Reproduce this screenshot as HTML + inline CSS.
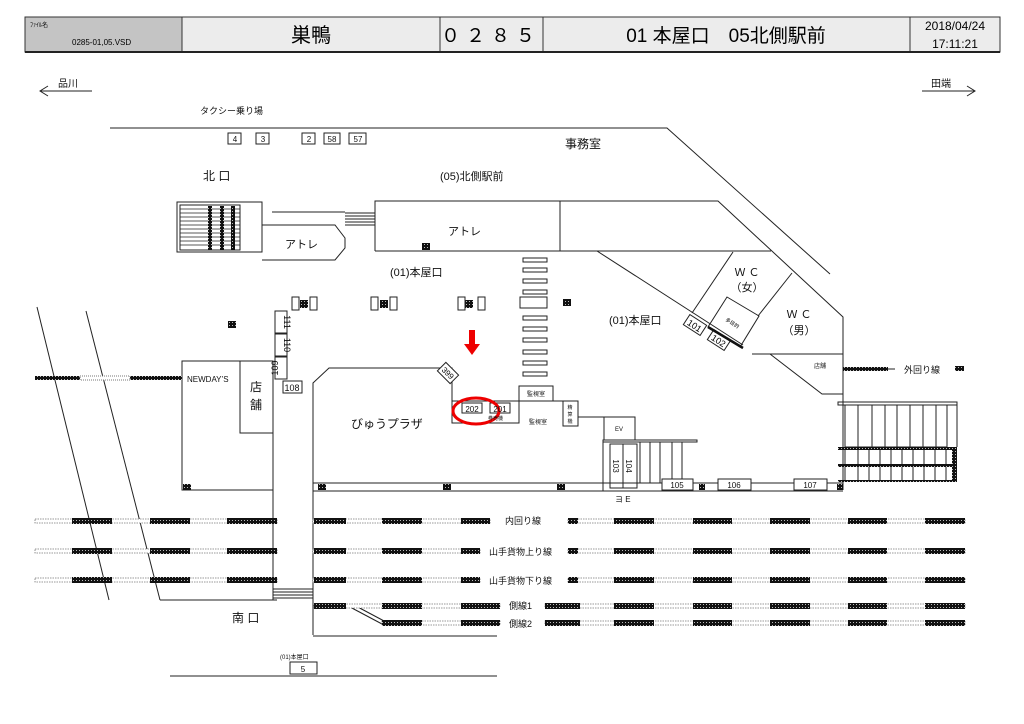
<!DOCTYPE html>
<html><head><meta charset="utf-8"><style>
html,body{margin:0;padding:0;background:#fff;}
svg{display:block;font-family:"Liberation Sans","Noto Sans CJK JP",sans-serif;}
</style></head><body>
<svg width="1024" height="724" viewBox="0 0 1024 724" xmlns="http://www.w3.org/2000/svg">
<defs>
<pattern id="h" width="3" height="3" patternUnits="userSpaceOnUse"><rect width="3" height="3" fill="#111"/><rect x="1" y="1" width="1" height="1" fill="#bbb"/></pattern>
</defs>
<!-- header -->
<rect x="25" y="17" width="157" height="35" fill="#c4c4c4"/>
<rect x="182" y="17" width="818" height="35" fill="#ececec"/>
<g stroke="#333" stroke-width="1" fill="none">
<rect x="25" y="17" width="975" height="35"/>
<line x1="182" y1="17" x2="182" y2="52"/><line x1="440" y1="17" x2="440" y2="52"/>
<line x1="543" y1="17" x2="543" y2="52"/><line x1="910" y1="17" x2="910" y2="52"/>
</g>
<line x1="25" y1="52" x2="1000" y2="52" stroke="#222" stroke-width="2"/>
<text x="30" y="27" font-size="6">ﾌｧｲﾙ名</text>
<text x="72" y="45" font-size="8">0285-01,05.VSD</text>
<text x="311" y="42" font-size="20" text-anchor="middle">巣鴨</text>
<text x="491" y="42" font-size="19" text-anchor="middle" letter-spacing="6">０２８５</text>
<text x="726" y="42" font-size="19" text-anchor="middle">01 本屋口　05北側駅前</text>
<text x="955" y="30" font-size="12" text-anchor="middle">2018/04/24</text>
<text x="955" y="48" font-size="12" text-anchor="middle">17:11:21</text>

<g stroke="#222" stroke-width="1" fill="none">
<line x1="40" y1="91" x2="92" y2="91"/><polyline points="48,86 40,91 48,96"/>
<line x1="922" y1="91" x2="975" y2="91"/><polyline points="967,86 975,91 967,96"/>
<polyline points="110,128 667,128 830,274"/>
<rect x="228" y="133" width="13" height="11"/><rect x="256" y="133" width="13" height="11"/>
<rect x="302" y="133" width="13" height="11"/><rect x="324" y="133" width="16" height="11"/><rect x="349" y="133" width="17" height="11"/>
<rect x="177" y="202" width="85" height="50"/>
<rect x="180" y="205" width="60" height="45"/>
<g stroke-width="0.7"><line x1="180" y1="209" x2="240" y2="209"/><line x1="180" y1="213" x2="240" y2="213"/><line x1="180" y1="217" x2="240" y2="217"/><line x1="180" y1="221" x2="240" y2="221"/><line x1="180" y1="225" x2="240" y2="225"/><line x1="180" y1="229" x2="240" y2="229"/><line x1="180" y1="233" x2="240" y2="233"/><line x1="180" y1="237" x2="240" y2="237"/><line x1="180" y1="241" x2="240" y2="241"/><line x1="180" y1="245" x2="240" y2="245"/></g>
<polyline points="262,225 335,225 345,238 345,248 335,260 262,260"/>
<line x1="272" y1="212" x2="345" y2="212"/>
<line x1="345" y1="213" x2="375" y2="213"/><line x1="345" y1="216" x2="375" y2="216"/><line x1="345" y1="219" x2="375" y2="219"/><line x1="345" y1="222" x2="375" y2="222"/><line x1="345" y1="225" x2="375" y2="225"/>
<polyline points="375,251 375,201 718,201 843,317 843,490"/>
<line x1="375" y1="251" x2="771" y2="251"/>
<line x1="560" y1="201" x2="560" y2="251"/>
<line x1="597" y1="251" x2="743" y2="345"/>
<line x1="733" y1="252" x2="692" y2="313"/>
<line x1="792" y1="273" x2="758" y2="316"/>
<polygon points="727,297 759,316 740,347 708,327"/>
<line x1="752" y1="354" x2="843" y2="354"/>
<polyline points="770,354 822,394 843,394"/>
<rect x="838" y="402" width="119" height="3"/>
<rect x="845" y="405" width="102" height="42"/>
<line x1="858" y1="405" x2="858" y2="447"/><line x1="872" y1="405" x2="872" y2="447"/><line x1="885" y1="405" x2="885" y2="447"/><line x1="897" y1="405" x2="897" y2="447"/><line x1="910" y1="405" x2="910" y2="447"/><line x1="923" y1="405" x2="923" y2="447"/><line x1="936" y1="405" x2="936" y2="447"/>
<line x1="957" y1="405" x2="957" y2="447"/>
<line x1="845" y1="450" x2="845" y2="482"/><line x1="858" y1="450" x2="858" y2="482"/><line x1="869" y1="450" x2="869" y2="482"/><line x1="880" y1="450" x2="880" y2="482"/><line x1="891" y1="450" x2="891" y2="482"/><line x1="902" y1="450" x2="902" y2="482"/><line x1="913" y1="450" x2="913" y2="482"/><line x1="924" y1="450" x2="924" y2="482"/><line x1="935" y1="450" x2="935" y2="482"/><line x1="946" y1="450" x2="946" y2="482"/>
<line x1="37" y1="307" x2="109" y2="600"/>
<line x1="86" y1="311" x2="160" y2="600"/>
<polyline points="160,600 277,600"/>
<rect x="182" y="361" width="91" height="129"/>
<rect x="240" y="361" width="33" height="72"/>
<line x1="273" y1="490" x2="273" y2="600"/>
<rect x="275" y="311" width="12" height="22"/><rect x="275" y="334" width="12" height="22"/><rect x="275" y="357" width="12" height="22"/>
<rect x="283" y="381" width="19" height="12"/>
<line x1="273" y1="589" x2="313" y2="589"/><line x1="273" y1="592" x2="313" y2="592"/><line x1="273" y1="595" x2="313" y2="595"/><line x1="273" y1="598" x2="313" y2="598"/>
<polyline points="313,635 313,383 329,368 452,368 452,423 519,423 519,401"/>
<line x1="452" y1="401" x2="563" y2="401"/>
<rect x="519" y="386" width="34" height="15"/>
<rect x="462" y="403" width="20" height="10"/><rect x="490" y="403" width="20" height="10"/>
<rect x="563" y="401" width="15" height="25"/>
<line x1="578" y1="417" x2="604" y2="417"/>
<rect x="604" y="417" width="31" height="23"/>
<rect x="603" y="440" width="94" height="2"/>
<line x1="603" y1="442" x2="603" y2="491"/>
<rect x="610" y="444" width="27" height="44"/>
<line x1="623" y1="444" x2="623" y2="488"/>
<line x1="640" y1="442" x2="640" y2="483"/><line x1="650" y1="442" x2="650" y2="483"/><line x1="660" y1="442" x2="660" y2="483"/><line x1="672" y1="442" x2="672" y2="483"/><line x1="682" y1="442" x2="682" y2="483"/>
<line x1="313" y1="483" x2="843" y2="483"/>
<line x1="313" y1="491" x2="843" y2="491"/>
<rect x="662" y="479" width="31" height="11" fill="#fff"/>
<rect x="718" y="479" width="33" height="11" fill="#fff"/>
<rect x="794" y="479" width="33" height="11" fill="#fff"/>
<rect x="523" y="258" width="24" height="4"/><rect x="523" y="268" width="24" height="4"/><rect x="523" y="279" width="24" height="4"/><rect x="523" y="290" width="24" height="4"/>
<rect x="520" y="297" width="27" height="11"/>
<rect x="523" y="316" width="24" height="4"/><rect x="523" y="327" width="24" height="4"/><rect x="523" y="338" width="24" height="4"/><rect x="523" y="350" width="24" height="4"/><rect x="523" y="361" width="24" height="4"/><rect x="523" y="372" width="24" height="4"/>
<line x1="313" y1="636" x2="497" y2="636"/>
<line x1="170" y1="676" x2="497" y2="676"/>
<rect x="290" y="662" width="27" height="12"/>
<line x1="350" y1="607" x2="382" y2="624"/><line x1="354" y1="605" x2="386" y2="622"/>
</g>
<g transform="translate(448,373) rotate(45)"><rect x="-9" y="-6" width="18" height="12" fill="#fff" stroke="#222"/></g>
<text x="448" y="376" font-size="8" text-anchor="middle" transform="rotate(45 448 373)">399</text>
<g transform="translate(695,325) rotate(33)"><rect x="-10" y="-6" width="20" height="12" fill="#fff" stroke="#222"/><text x="0" y="4" font-size="9" text-anchor="middle">101</text></g>
<g transform="translate(719,340) rotate(33)"><rect x="-10" y="-6" width="20" height="12" fill="#fff" stroke="#222"/><text x="0" y="4" font-size="9" text-anchor="middle">102</text></g>
<line x1="708" y1="327" x2="743" y2="348" stroke="#111" stroke-width="2.5"/>
<text x="733" y="325" font-size="5" text-anchor="middle" transform="rotate(33 733 322)">多目的</text>

<g fill="url(#h)">
<rect x="208" y="206" width="4" height="44"/><rect x="220" y="206" width="4" height="44"/><rect x="231" y="206" width="4" height="44"/>
<rect x="228" y="321" width="8" height="7"/><rect x="422" y="243" width="8" height="7"/><rect x="563" y="299" width="8" height="7"/>
<rect x="183" y="484" width="8" height="6"/><rect x="318" y="484" width="8" height="6"/><rect x="443" y="484" width="8" height="6"/><rect x="557" y="484" width="8" height="6"/>
<rect x="699" y="484" width="6" height="6"/><rect x="837" y="484" width="6" height="6"/>
<rect x="300" y="300" width="8" height="8"/><rect x="380" y="300" width="8" height="8"/><rect x="465" y="300" width="8" height="8"/>
<rect x="838" y="447" width="119" height="3"/><rect x="838" y="464" width="119" height="3"/><rect x="838" y="480" width="119" height="2"/><rect x="952" y="447" width="5" height="35"/>
<rect x="843" y="367" width="45" height="4"/><rect x="955" y="366" width="9" height="5"/>
<rect x="35" y="376" width="45" height="4"/><rect x="130" y="376" width="52" height="4"/>
</g>
<g fill="#fff" stroke="#222">
<rect x="292" y="297" width="7" height="13"/><rect x="310" y="297" width="7" height="13"/>
<rect x="371" y="297" width="7" height="13"/><rect x="390" y="297" width="7" height="13"/>
<rect x="458" y="297" width="7" height="13"/><rect x="478" y="297" width="7" height="13"/>
</g>
<rect x="80" y="376" width="50" height="4" fill="#fff" stroke="#777" stroke-dasharray="1,1"/>
<line x1="888" y1="369" x2="895" y2="369" stroke="#222"/>

<g fill="#fff" stroke="#777" stroke-width="0.8" stroke-dasharray="1.5,1">
<rect x="35" y="519" width="242" height="4"/><rect x="313" y="519" width="177" height="4"/><rect x="568" y="519" width="397" height="4"/>
<rect x="35" y="549" width="242" height="4"/><rect x="313" y="549" width="167" height="4"/><rect x="568" y="549" width="397" height="4"/>
<rect x="35" y="578" width="242" height="4"/><rect x="313" y="578" width="167" height="4"/><rect x="568" y="578" width="397" height="4"/>
<rect x="314" y="604" width="186" height="4"/><rect x="545" y="604" width="420" height="4"/>
<rect x="382" y="621" width="118" height="4"/><rect x="545" y="621" width="420" height="4"/>
</g>
<g fill="url(#h)">
<rect x="72" y="518" width="40" height="6"/><rect x="150" y="518" width="40" height="6"/><rect x="227" y="518" width="50" height="6"/><rect x="314" y="518" width="32" height="6"/><rect x="382" y="518" width="40" height="6"/><rect x="461" y="518" width="29" height="6"/>
<rect x="568" y="518" width="10" height="6"/><rect x="614" y="518" width="40" height="6"/><rect x="693" y="518" width="39" height="6"/><rect x="770" y="518" width="40" height="6"/><rect x="848" y="518" width="39" height="6"/><rect x="925" y="518" width="40" height="6"/>
<rect x="72" y="548" width="40" height="6"/><rect x="150" y="548" width="40" height="6"/><rect x="227" y="548" width="50" height="6"/><rect x="314" y="548" width="32" height="6"/><rect x="382" y="548" width="40" height="6"/><rect x="461" y="548" width="19" height="6"/>
<rect x="568" y="548" width="10" height="6"/><rect x="614" y="548" width="40" height="6"/><rect x="693" y="548" width="39" height="6"/><rect x="770" y="548" width="40" height="6"/><rect x="848" y="548" width="39" height="6"/><rect x="925" y="548" width="40" height="6"/>
<rect x="72" y="577" width="40" height="6"/><rect x="150" y="577" width="40" height="6"/><rect x="227" y="577" width="50" height="6"/><rect x="314" y="577" width="32" height="6"/><rect x="382" y="577" width="40" height="6"/><rect x="461" y="577" width="19" height="6"/>
<rect x="568" y="577" width="10" height="6"/><rect x="614" y="577" width="40" height="6"/><rect x="693" y="577" width="39" height="6"/><rect x="770" y="577" width="40" height="6"/><rect x="848" y="577" width="39" height="6"/><rect x="925" y="577" width="40" height="6"/>
<rect x="314" y="603" width="32" height="6"/><rect x="382" y="603" width="40" height="6"/><rect x="461" y="603" width="39" height="6"/>
<rect x="545" y="603" width="35" height="6"/><rect x="614" y="603" width="40" height="6"/><rect x="693" y="603" width="39" height="6"/><rect x="770" y="603" width="40" height="6"/><rect x="848" y="603" width="39" height="6"/><rect x="925" y="603" width="40" height="6"/>
<rect x="382" y="620" width="40" height="6"/><rect x="461" y="620" width="39" height="6"/>
<rect x="545" y="620" width="35" height="6"/><rect x="614" y="620" width="40" height="6"/><rect x="693" y="620" width="39" height="6"/><rect x="770" y="620" width="40" height="6"/><rect x="848" y="620" width="39" height="6"/><rect x="925" y="620" width="40" height="6"/>
</g>

<rect x="469" y="330" width="6" height="16" fill="#e00"/>
<polygon points="464,344 480,344 472,355" fill="#e00"/>
<ellipse cx="476" cy="411" rx="23" ry="13" fill="none" stroke="#e00" stroke-width="3"/>

<g font-size="11" fill="#111">
<text x="58" y="87" font-size="10">品川</text>
<text x="931" y="87" font-size="10">田端</text>
<text x="200" y="114" font-size="9">タクシー乗り場</text>
<g font-size="8" text-anchor="middle"><text x="235" y="142">4</text><text x="263" y="142">3</text><text x="309" y="142">2</text><text x="332" y="142">58</text><text x="358" y="142">57</text></g>
<text x="565" y="148" font-size="12">事務室</text>
<text x="203" y="180" font-size="12">北 口</text>
<text x="440" y="180" font-size="11">(05)北側駅前</text>
<text x="285" y="248" font-size="11">アトレ</text>
<text x="448" y="235" font-size="11">アトレ</text>
<text x="390" y="276" font-size="11">(01)本屋口</text>
<text x="609" y="324" font-size="11">(01)本屋口</text>
<text x="747" y="276" font-size="11" text-anchor="middle">Ｗ Ｃ</text>
<text x="747" y="291" font-size="11" text-anchor="middle">（女）</text>
<text x="799" y="318" font-size="11" text-anchor="middle">Ｗ Ｃ</text>
<text x="799" y="334" font-size="11" text-anchor="middle">（男）</text>
<text x="814" y="368" font-size="6">店舗</text>
<text x="904" y="373" font-size="9">外回り線</text>
<text x="187" y="382" font-size="8">NEWDAY’S</text>
<text x="256" y="391" font-size="12" text-anchor="middle">店</text>
<text x="256" y="409" font-size="12" text-anchor="middle">舗</text>
<g font-size="9" text-anchor="middle">
<text transform="translate(284,322) rotate(90)" y="0">111</text>
<text transform="translate(284,345) rotate(90)">110</text>
<text transform="translate(278,368) rotate(-90)">109</text>
</g>
<text x="292" y="391" font-size="9" text-anchor="middle">108</text>
<text x="351" y="428" font-size="12">びゅうプラザ</text>
<text x="472" y="412" font-size="8" text-anchor="middle">202</text>
<text x="500" y="412" font-size="8" text-anchor="middle">201</text>
<text x="488" y="420" font-size="5">券売機</text>
<text x="536" y="396" font-size="6" text-anchor="middle">監視室</text>
<text x="538" y="424" font-size="6" text-anchor="middle">監視室</text>
<text x="570" y="409" font-size="5" text-anchor="middle">精</text><text x="570" y="416" font-size="5" text-anchor="middle">算</text><text x="570" y="423" font-size="5" text-anchor="middle">機</text>
<text x="619" y="431" font-size="6" text-anchor="middle">EV</text>
<text transform="translate(613,466) rotate(90)" font-size="8" text-anchor="middle">103</text>
<text transform="translate(626,466) rotate(90)" font-size="8" text-anchor="middle">104</text>
<g font-size="8" text-anchor="middle"><text x="677" y="488">105</text><text x="734" y="488">106</text><text x="810" y="488">107</text></g>
<text x="615" y="502" font-size="8">ヨ E</text>
<text x="505" y="524" font-size="9">内回り線</text>
<text x="489" y="555" font-size="9">山手貨物上り線</text>
<text x="489" y="584" font-size="9">山手貨物下り線</text>
<text x="509" y="609" font-size="9">側線1</text>
<text x="509" y="627" font-size="9">側線2</text>
<text x="232" y="622" font-size="12">南 口</text>
<text x="280" y="659" font-size="6">(01)本屋口</text>
<text x="303" y="672" font-size="8" text-anchor="middle">5</text>
</g>
</svg>
</body></html>
